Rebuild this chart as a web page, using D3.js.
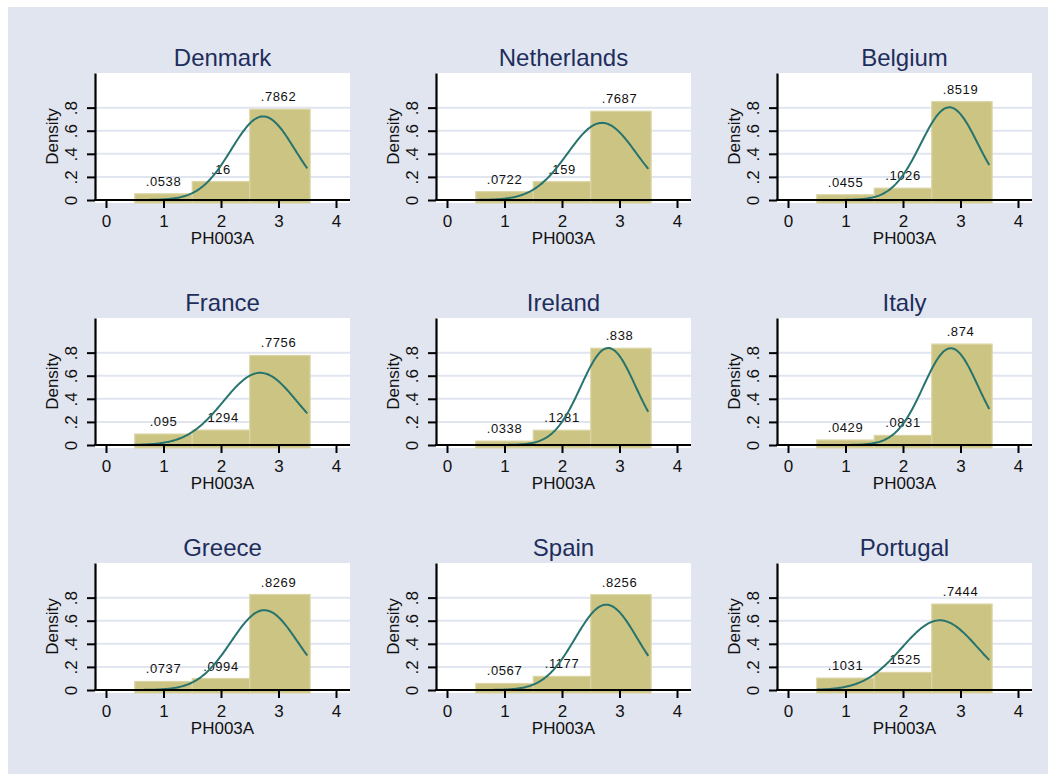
<!DOCTYPE html>
<html>
<head>
<meta charset="utf-8">
<script src="https://cdn.jsdelivr.net/npm/d3@7"></script>
<style>
  body { margin: 0; background: #ffffff; }
  svg { display: block; font-family: "Liberation Sans", Arial, sans-serif; }
</style>
</head>
<body>
<div id="chart"></div>
<script>
// datos
const countries = ["Denmark", "Netherlands", "Belgium", "France", "Ireland", "Italy", "Greece", "Spain", "Portugal"];
const bin1 = [0.0538, 0.0722, 0.0455, 0.095, 0.0338, 0.0429, 0.0737, 0.0567, 0.1031];
const bin2 = [0.16, 0.159, 0.1026, 0.1294, 0.1281, 0.0831, 0.0994, 0.1177, 0.1525];
const bin3 = [0.7862, 0.7687, 0.8519, 0.7756, 0.838, 0.874, 0.8269, 0.8256, 0.7444];
const binEdges = [0.5, 1.5, 2.5, 3.55];
const binCenters = [1, 2, 3];
// media y desviación de la curva normal superpuesta
const normalMean = [2.732, 2.696, 2.806, 2.681, 2.804, 2.831, 2.753, 2.769, 2.641];
const normalSd = [0.551, 0.597, 0.497, 0.638, 0.475, 0.476, 0.577, 0.540, 0.661];
const xTicks = [0, 1, 2, 3, 4];
const yTicks = [0, 0.2, 0.4, 0.6, 0.8];
const xTitle = "PH003A";
const yTitle = "Density";

const width = 1055, height = 774;
const bgColor = "#e1e5f0";
const barColor = "#ccc482";
const barEdge = "#dbd5a6";
const curveColor = "#27736d";
const titleColor = "#1e2e5c";

const svg = d3.select("#chart").append("svg")
  .attr("width", width)
  .attr("height", height);

svg.append("rect")
  .attr("x", 8).attr("y", 7)
  .attr("width", 1040).attr("height", height - 7)
  .attr("fill", bgColor);

const fmt = v => String(v).replace(/^0(?=\.)/, "");

countries.forEach((name, i) => {
  const col = i % 3, row = Math.floor(i / 3);
  const ax = 95 + col * 341;      // eje vertical
  const base = 200 + row * 245;   // línea del cero
  const right = ax + 255;

  const x = d3.scaleLinear().domain([0, 4]).range([ax + 11, ax + 241]);
  const y = d3.scaleLinear().domain([0, 1.1]).range([base, base - 127]);

  const g = svg.append("g");

  // zona blanca del gráfico
  g.append("rect")
    .attr("x", ax).attr("y", y(1.1))
    .attr("width", right - ax).attr("height", base + 3 - y(1.1))
    .attr("fill", "#ffffff");

  // rejilla
  g.selectAll("line.grid")
    .data(yTicks.filter(t => t > 0))
    .enter().append("line")
    .attr("x1", ax).attr("x2", right)
    .attr("y1", d => y(d)).attr("y2", d => y(d))
    .attr("stroke", bgColor)
    .attr("stroke-width", 2);

  // barras
  const vals = [bin1[i], bin2[i], bin3[i]];
  g.selectAll("rect.bar")
    .data(vals)
    .enter().append("rect")
    .attr("x", (d, k) => x(binEdges[k]))
    .attr("width", (d, k) => x(binEdges[k + 1]) - x(binEdges[k]))
    .attr("y", d => y(d))
    .attr("height", d => base + 3 - y(d))
    .attr("fill", barColor)
    .attr("stroke", barEdge)
    .attr("stroke-width", 1.2);

  // etiquetas de las barras
  g.selectAll("text.val")
    .data(vals)
    .enter().append("text")
    .attr("x", (d, k) => x(binCenters[k]))
    .attr("y", d => y(d) - 8)
    .attr("text-anchor", "middle")
    .style("font-size", "13px")
    .style("letter-spacing", "0.6px")
    .attr("fill", "#111")
    .text(d => fmt(d));

  // curva normal
  const mu = normalMean[i], sd = normalSd[i];
  const pts = d3.range(0.5, 3.5001, 0.02);
  const line = d3.line()
    .x(d => x(d))
    .y(d => y(Math.exp(-0.5 * ((d - mu) / sd) ** 2) / (sd * Math.sqrt(2 * Math.PI))));
  g.append("path")
    .datum(pts)
    .attr("d", line)
    .attr("fill", "none")
    .attr("stroke", curveColor)
    .attr("stroke-width", 2);

  // eje y
  const yAxis = g.append("g")
    .attr("transform", `translate(${ax},0)`)
    .call(d3.axisLeft(y).tickValues(yTicks).tickSize(8).tickSizeOuter(0).tickFormat(d => d === 0 ? "0" : fmt(+d.toFixed(1))));
  yAxis.select(".domain").attr("stroke", "#000").attr("stroke-width", 2.2);
  yAxis.selectAll(".tick line").attr("stroke", "#000").attr("stroke-width", 2);
  yAxis.selectAll(".tick text")
    .attr("transform", "rotate(-90)")
    .attr("x", 0).attr("y", -18).attr("dy", null)
    .attr("text-anchor", "middle")
    .attr("fill", "#111")
    .style("font-size", "17px");

  // eje x
  g.append("line")
    .attr("x1", ax - 1).attr("x2", right)
    .attr("y1", base).attr("y2", base)
    .attr("stroke", "#000").attr("stroke-width", 2.2);
  const xAxis = g.append("g")
    .attr("transform", `translate(0,${base})`)
    .call(d3.axisBottom(x).tickValues(xTicks).tickSize(8).tickFormat(d3.format("d")));
  xAxis.select(".domain").remove();
  xAxis.selectAll(".tick line").attr("stroke", "#000").attr("stroke-width", 2);
  xAxis.selectAll(".tick text")
    .attr("y", 27).attr("dy", null)
    .attr("fill", "#111")
    .style("font-size", "17px");

  // títulos de ejes
  g.append("text")
    .attr("transform", `translate(${ax - 37},${(y(1.1) + base) / 2}) rotate(-90)`)
    .attr("text-anchor", "middle")
    .attr("fill", "#111")
    .style("font-size", "17px")
    .text(yTitle);
  g.append("text")
    .attr("x", (ax + right) / 2).attr("y", base + 44)
    .attr("text-anchor", "middle")
    .attr("fill", "#111")
    .style("font-size", "17px")
    .text(xTitle);

  // título del panel
  g.append("text")
    .attr("x", (ax + right) / 2).attr("y", y(1.1) - 7)
    .attr("text-anchor", "middle")
    .attr("fill", titleColor)
    .style("font-size", "24px")
    .text(name);
});
</script>
</body>
</html>
